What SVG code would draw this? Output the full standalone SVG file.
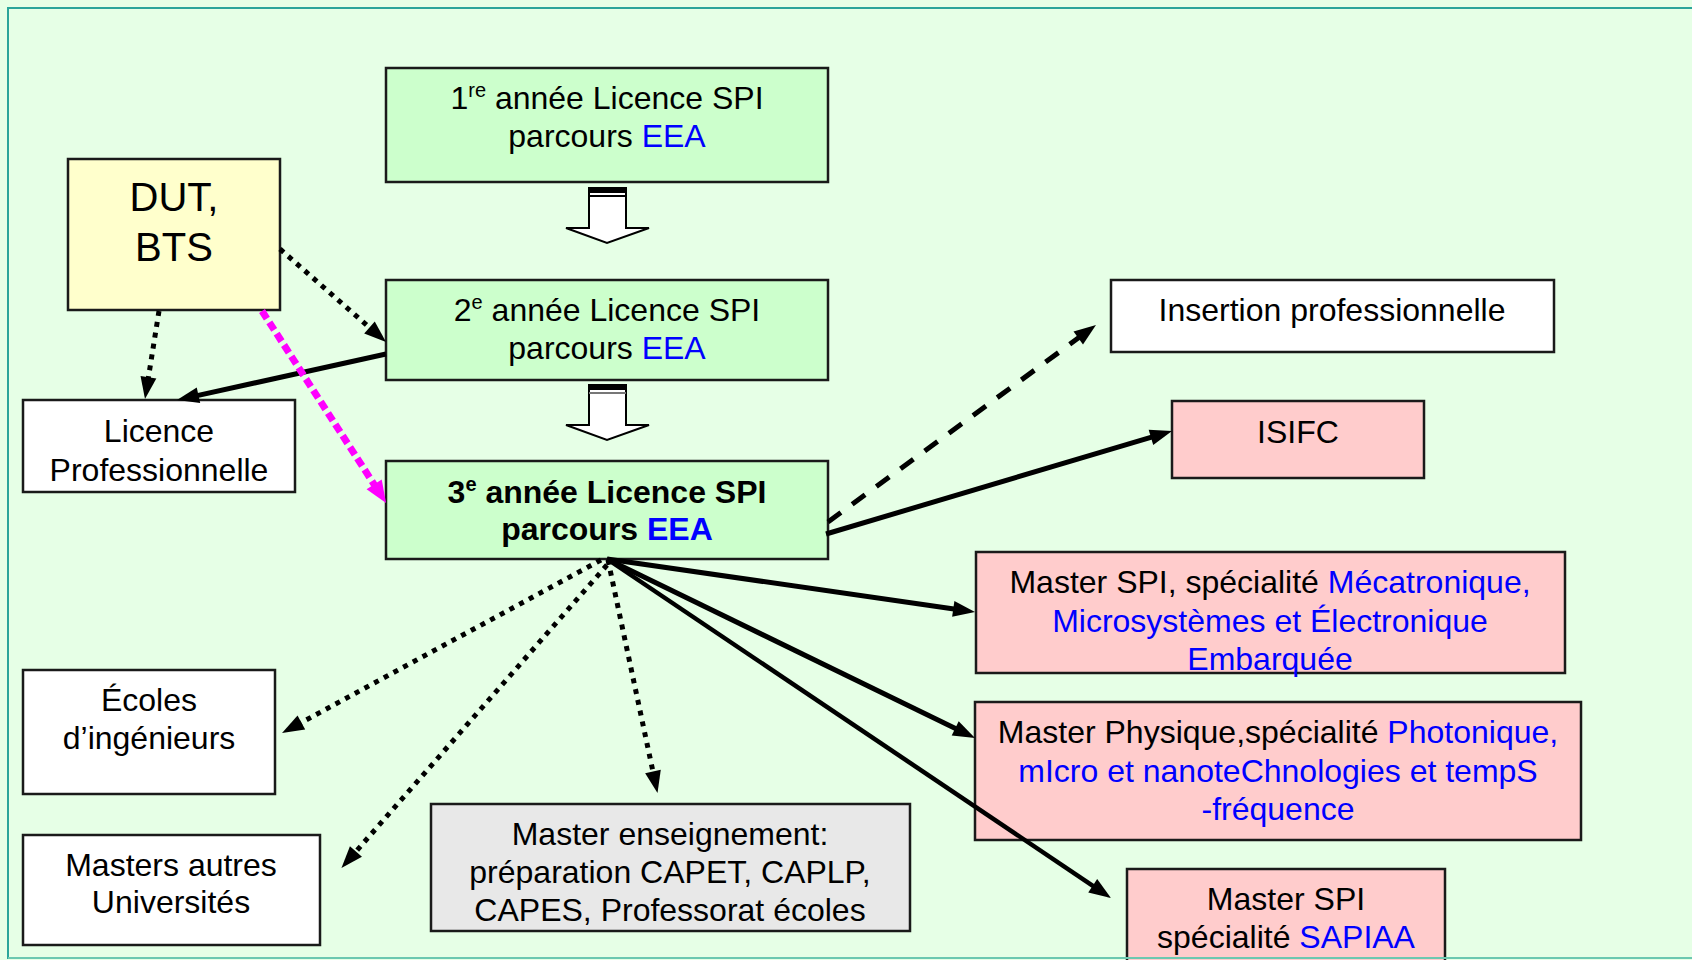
<svg xmlns="http://www.w3.org/2000/svg" width="1692" height="960" viewBox="0 0 1692 960">
<style>
text{font-family:"Liberation Sans",Arial,sans-serif;font-size:32px;fill:#000;text-anchor:middle}
.b{fill:#0000ff}
.bold{font-weight:bold}
.box{stroke:#1a1a1a;stroke-width:2.5}
.g{fill:#ccffcc}
.p{fill:#ffcccc}
.w{fill:#ffffff}
.y{fill:#ffffcc}
.gr{fill:#e8e8e8}
.solid{stroke:#000;stroke-width:5;fill:none;marker-end:url(#ah)}
.dot{stroke:#000;stroke-width:5;fill:none;stroke-dasharray:5 6;marker-end:url(#ah)}
.dash{stroke:#000;stroke-width:5;fill:none;stroke-dasharray:16 14;marker-end:url(#ah)}
.mag{stroke:#ff00ff;stroke-width:7;fill:none;stroke-dasharray:9 4.5;marker-end:url(#ahm)}
.blk{fill:#fff;stroke:#000;stroke-width:2}
</style>
<defs>
<marker id="ah" markerUnits="userSpaceOnUse" markerWidth="22" markerHeight="16" refX="6" refY="8" orient="auto" overflow="visible"><path d="M0,0 L22,8 L0,16 z" fill="#000"/></marker>
<marker id="ahm" markerUnits="userSpaceOnUse" markerWidth="22" markerHeight="18" refX="6" refY="9" orient="auto" overflow="visible"><path d="M0,0 L22,9 L0,18 z" fill="#ff00ff"/></marker>
</defs>
<rect x="0" y="0" width="1692" height="960" fill="#e6ffe6"/>
<rect x="8" y="8" width="1700" height="950" fill="#e6ffe6" stroke="#2aa59a" stroke-width="2"/>

<g id="l1">
<rect class="box g" x="386" y="68" width="442" height="114"/>
<text x="607" y="109">1<tspan font-size="20" dy="-12">re</tspan><tspan dy="12"> année Licence SPI</tspan></text>
<text x="607" y="147">parcours <tspan class="b">EEA</tspan></text>
</g>

<g id="dut">
<rect class="box y" x="68" y="159" width="212" height="151"/>
<text x="174" y="211" style="font-size:40px">DUT,</text>
<text x="174" y="261" style="font-size:40px">BTS</text>
</g>

<g id="l2">
<rect class="box g" x="386" y="280" width="442" height="100"/>
<text x="607" y="321">2<tspan font-size="20" dy="-12">e</tspan><tspan dy="12"> année Licence SPI</tspan></text>
<text x="607" y="359">parcours <tspan class="b">EEA</tspan></text>
</g>

<g id="lpro">
<rect class="box w" x="23" y="400" width="272" height="92"/>
<text x="159" y="442">Licence</text>
<text x="159" y="481">Professionnelle</text>
</g>

<g id="l3">
<rect class="box g" x="386" y="461" width="442" height="98"/>
<text class="bold" x="607" y="503">3<tspan font-size="20" dy="-12">e</tspan><tspan dy="12"> année Licence SPI</tspan></text>
<text class="bold" x="607" y="540">parcours <tspan class="b">EEA</tspan></text>
</g>

<g id="ecoles">
<rect class="box w" x="23" y="670" width="252" height="124"/>
<text x="149" y="711">Écoles</text>
<text x="149" y="749">d’ingénieurs</text>
</g>

<g id="mautres">
<rect class="box w" x="23" y="835" width="297" height="110"/>
<text x="171" y="876">Masters autres</text>
<text x="171" y="913">Universités</text>
</g>

<g id="mens">
<rect class="box gr" x="431" y="804" width="479" height="127"/>
<text x="670" y="845">Master enseignement:</text>
<text x="670" y="883">préparation CAPET, CAPLP,</text>
<text x="670" y="921">CAPES, Professorat écoles</text>
</g>

<g id="insertion">
<rect class="box w" x="1111" y="280" width="443" height="72"/>
<text x="1332" y="321">Insertion professionnelle</text>
</g>

<g id="isifc">
<rect class="box p" x="1172" y="401" width="252" height="77"/>
<text x="1298" y="443">ISIFC</text>
</g>

<g id="mmeca">
<rect class="box p" x="976" y="552" width="589" height="121"/>
<text x="1270" y="593">Master SPI, spécialité <tspan class="b">Mécatronique,</tspan></text>
<text class="b" x="1270" y="632">Microsystèmes et Électronique</text>
<text class="b" x="1270" y="670">Embarquée</text>
</g>

<g id="mphys">
<rect class="box p" x="975" y="702" width="606" height="138"/>
<text x="1278" y="743">Master Physique,spécialité <tspan class="b">Photonique,</tspan></text>
<text class="b" x="1278" y="782">mIcro et nanoteChnologies et tempS</text>
<text class="b" x="1278" y="820">-fréquence</text>
</g>

<g id="msapiaa">
<rect class="box p" x="1127" y="869" width="318" height="100"/>
<text x="1286" y="910">Master SPI</text>
<text x="1286" y="948">spécialité <tspan class="b">SAPIAA</tspan></text>
</g>

<g id="connectors">
<line class="dot" x1="280" y1="249" x2="374" y2="331.4"/>
<line class="dot" x1="159" y1="311" x2="147.5" y2="383.2"/>
<line class="solid" x1="386" y1="354" x2="192.6" y2="396.6"/>
<line class="mag" x1="262" y1="311" x2="377.4" y2="489.5"/>
<line class="dash" x1="828" y1="522" x2="1083.1" y2="334.5"/>
<line class="solid" x1="826" y1="534" x2="1156.7" y2="435.6"/>
<line class="solid" x1="607" y1="559" x2="959.2" y2="609.7"/>
<line class="solid" x1="607" y1="559" x2="960.6" y2="731"/>
<line class="solid" x1="607" y1="559" x2="1097.7" y2="889.1" style="stroke-width:4.5"/>
<line class="dot" x1="608" y1="560" x2="654.2" y2="777.4"/>
<line class="dot" x1="601" y1="560" x2="296.1" y2="725.4"/>
<line class="dot" x1="607" y1="565" x2="352" y2="856"/>
<g id="blockarrow1">
<polygon class="blk" points="589,188 626,188 626,228 649,228 607,243 566,228 589,228"/>
<rect x="589" y="188" width="37" height="5" fill="#000"/>
<rect x="589" y="195" width="37" height="2" fill="#000"/>
</g>
<g id="blockarrow2">
<polygon class="blk" points="589,385 626,385 626,425 649,425 607,440 566,425 589,425"/>
<rect x="589" y="385" width="37" height="5" fill="#000"/>
<rect x="589" y="392" width="37" height="2" fill="#777"/>
</g>
</g>
<line x1="8" y1="958" x2="1692" y2="958" stroke="#6cc8b0" stroke-width="2"/>
</svg>
